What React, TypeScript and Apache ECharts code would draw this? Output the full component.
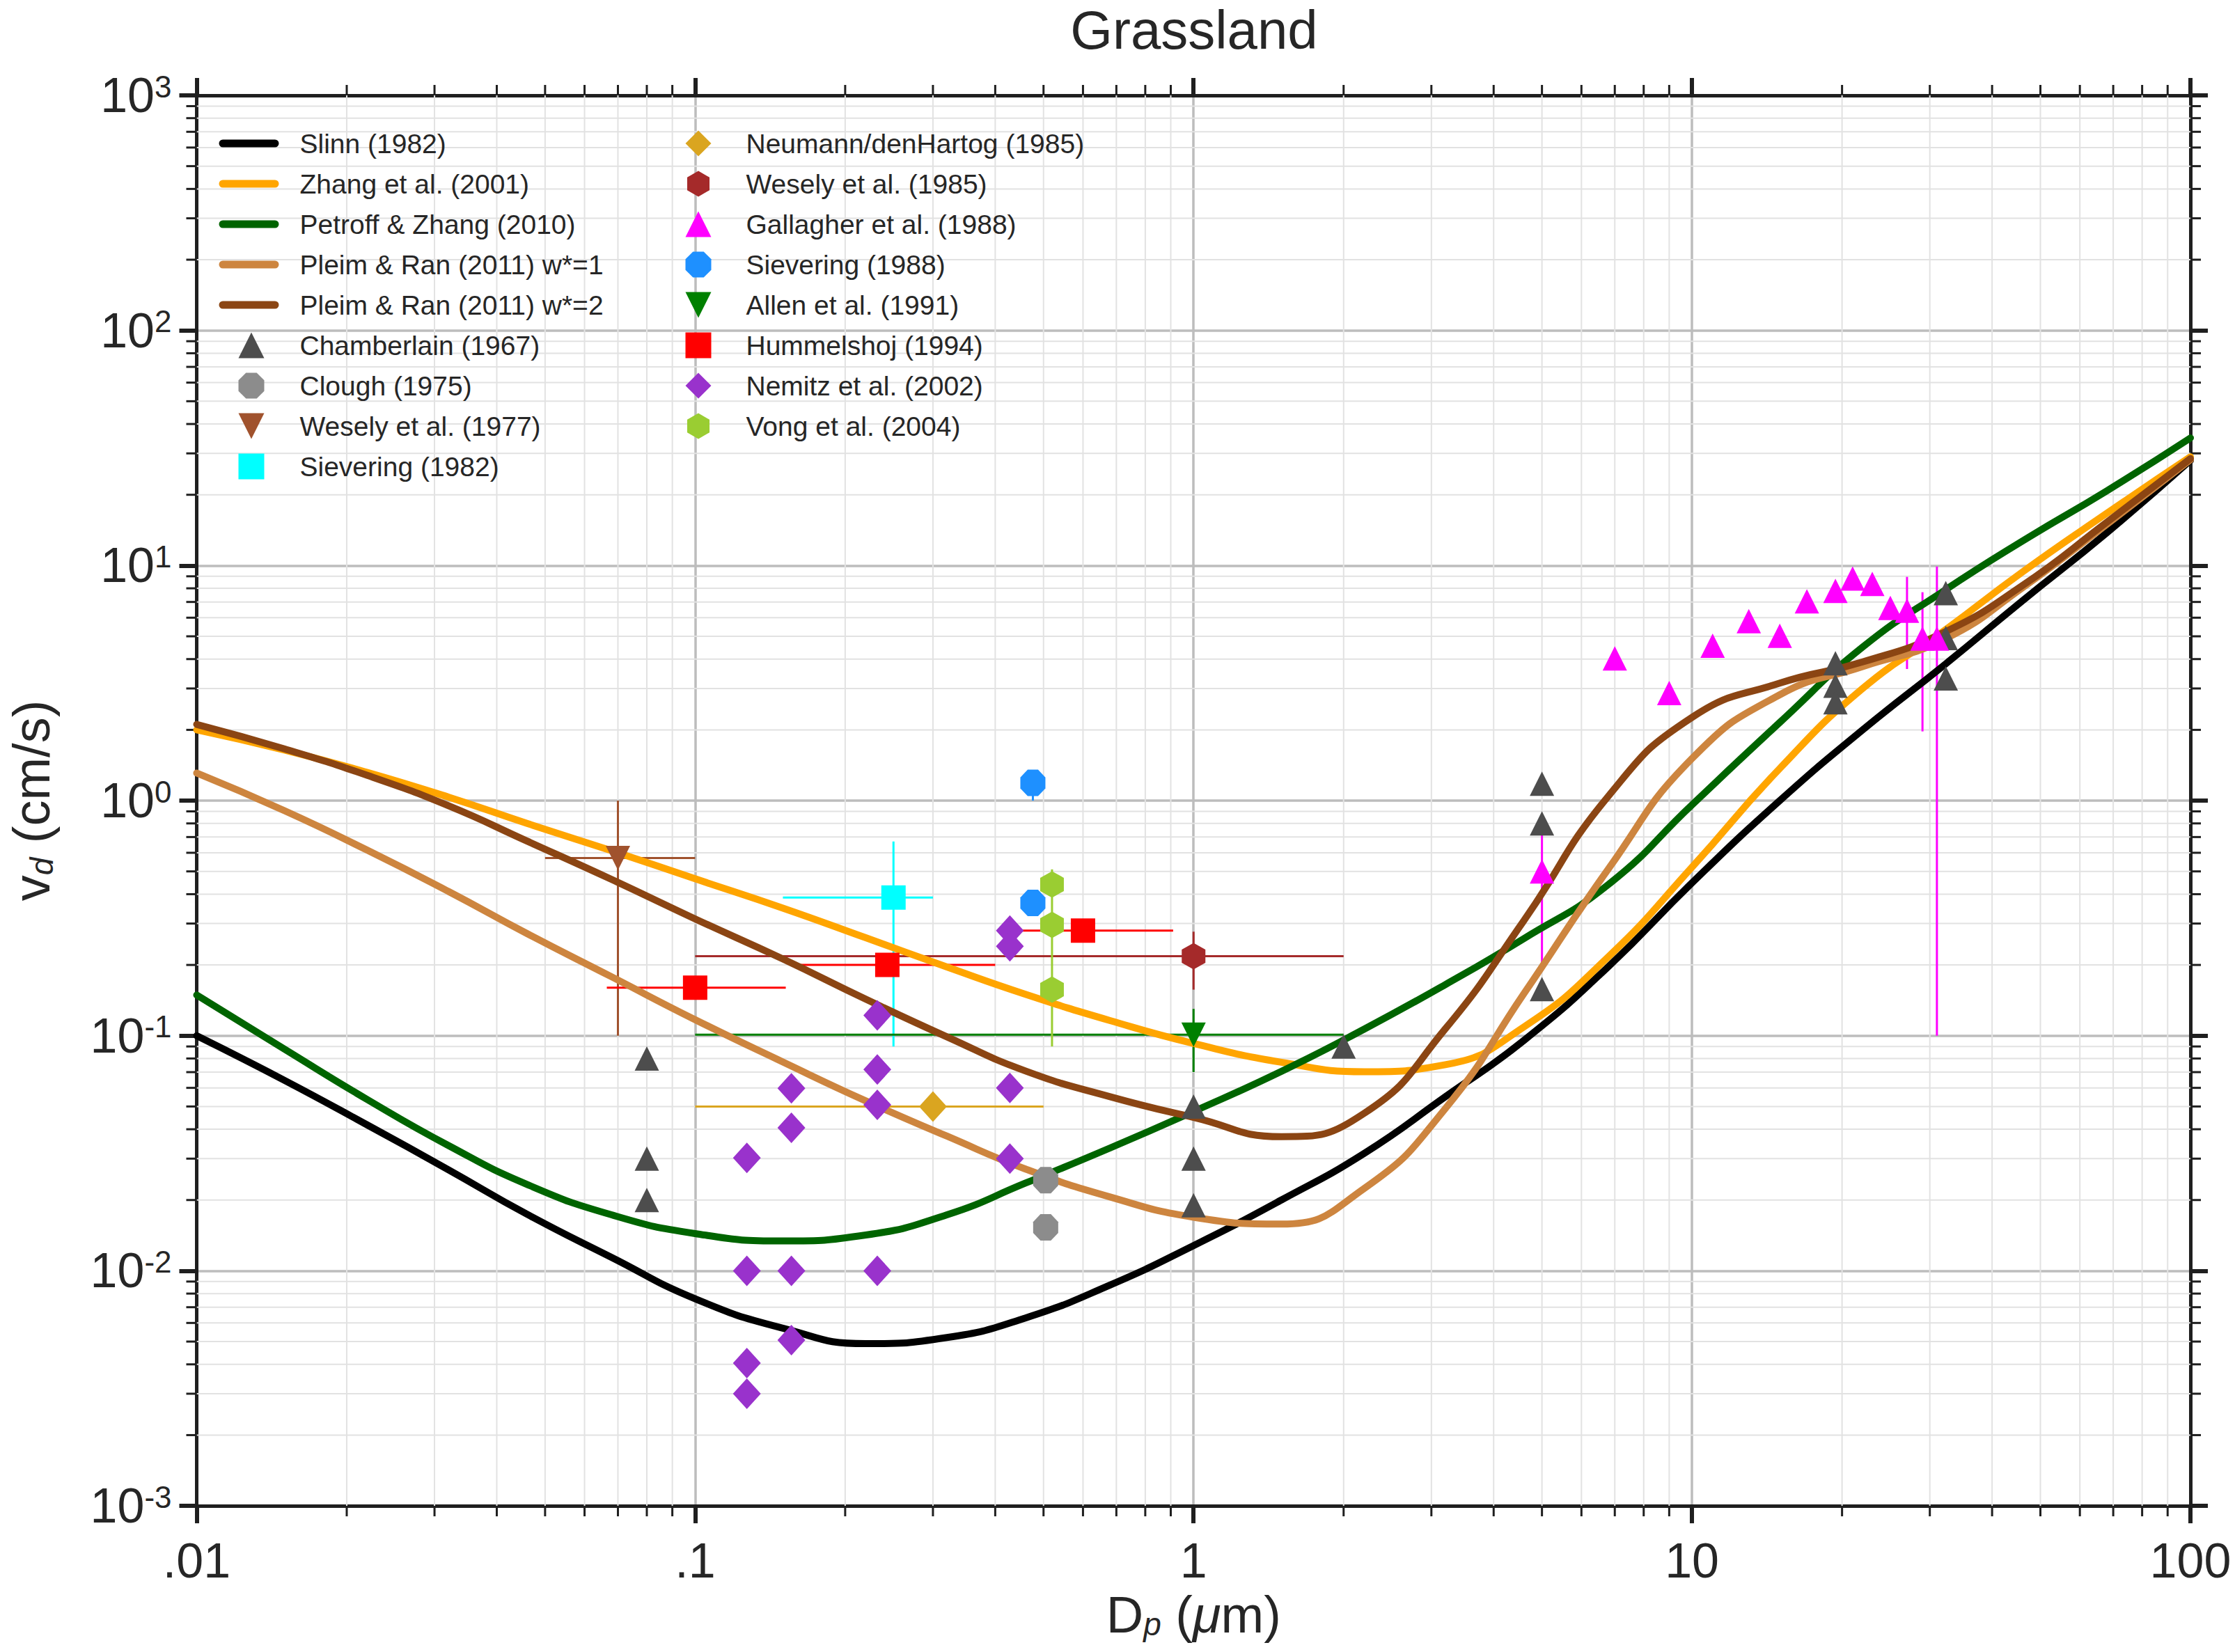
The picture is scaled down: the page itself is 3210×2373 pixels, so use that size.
import React, { useEffect, useRef } from 'react';
import * as echarts from 'echarts';

// particle diameter grid used by the model curves (µm), roughly even in log space
const dp = [0.01, 0.015, 0.022, 0.032, 0.046, 0.068, 0.1, 0.15, 0.22, 0.32, 0.46, 0.68, 1, 1.5, 2.2, 3.2, 4.6, 6.8, 10, 15, 22, 32, 46, 68, 100];
const slinn = [0.1, 0.0646, 0.0417, 0.0269, 0.0174, 0.0114, 0.0076, 0.0057, 0.0049, 0.0052, 0.0063, 0.0087, 0.0128, 0.02, 0.0316, 0.055, 0.0955, 0.197, 0.447, 1.0, 2.0, 3.76, 7.08, 13.8, 28];
const zhang = [2.0, 1.64, 1.318, 1.035, 0.8, 0.612, 0.465, 0.349, 0.261, 0.196, 0.15, 0.116, 0.0927, 0.0771, 0.0703, 0.0753, 0.109, 0.217, 0.521, 1.37, 3.0, 5.27, 9.38, 16.7, 29];
const petroff = [0.149, 0.0877, 0.0535, 0.0341, 0.0233, 0.0173, 0.0144, 0.0134, 0.0142, 0.0173, 0.0236, 0.0333, 0.0476, 0.0705, 0.1067, 0.165, 0.259, 0.44, 0.96, 2.15, 4.5, 7.8, 12.7, 20.8, 34.9];
const pleim1 = [1.31, 0.906, 0.615, 0.411, 0.272, 0.178, 0.117, 0.0773, 0.0528, 0.0374, 0.0271, 0.0206, 0.0169, 0.0158, 0.0224, 0.049, 0.151, 0.513, 1.51, 2.82, 3.72, 4.84, 8.04, 15.0, 28.2];
const pleim2 = [2.11, 1.66, 1.28, 0.951, 0.673, 0.462, 0.314, 0.212, 0.143, 0.0989, 0.0708, 0.055, 0.0449, 0.0372, 0.0468, 0.107, 0.309, 1.047, 2.26, 3.16, 3.89, 5.19, 8.22, 15.3, 28.5];

// measurements [Dp, vd]
const chamberlain = [[0.08, 0.08], [0.08, 0.03], [0.08, 0.02], [1, 0.05], [1, 0.03], [1, 0.019], [2, 0.09], [5, 1.18], [5, 0.8], [5, 0.158], [19.4, 3.84], [19.4, 3.08], [19.4, 2.62], [32.3, 7.63], [32.3, 4.92], [32.3, 3.31]];
const clough = [[0.505, 0.0243], [0.505, 0.0153]];
const wesely77 = [[0.07, 0.57]];
const sievering82 = [[0.25, 0.387]];
const neumann = [[0.3, 0.05]];
const wesely85 = [[1, 0.218]];
const gallagher = [[5, 0.5], [7, 4.03], [9, 2.87], [11, 4.56], [13, 5.8], [15, 5.03], [17, 7.05], [19.4, 7.8], [21, 8.8], [23, 8.35], [25, 6.6], [27, 6.42], [29, 4.89], [31, 4.89]];
const sievering88 = [[0.476, 1.19], [0.476, 0.367]];
const allen = [[1, 0.101]];
const hummelshoj = [[0.1, 0.16], [0.243, 0.2], [0.6, 0.28]];
const nemitz = [[0.428, 0.28], [0.428, 0.24], [0.232, 0.122], [0.232, 0.0718], [0.232, 0.0508], [0.156, 0.0598], [0.156, 0.0406], [0.127, 0.0302], [0.428, 0.06], [0.428, 0.03], [0.127, 0.01], [0.156, 0.01], [0.232, 0.01], [0.156, 0.00507], [0.127, 0.00405], [0.127, 0.003]];
const vong = [[0.52, 0.44], [0.52, 0.296], [0.52, 0.157]];

// error bars [x, y, xLow, xHigh, yLow, yHigh]
const wesely77Err = [[0.07, 0.57, 0.05, 0.1, 0.1, 1.0]];
const sievering82Err = [[0.25, 0.387, 0.15, 0.3, 0.09, 0.67]];
const neumannErr = [[0.3, 0.05, 0.1, 0.5, 0.05, 0.05]];
const wesely85Err = [[1, 0.218, 0.1, 2, 0.157, 0.277]];
const gallagherErr = [[5, 0.5, 5, 5, 0.2, 0.72], [27, 6.42, 27, 27, 3.63, 8.95], [29, 4.89, 29, 29, 1.97, 7.7], [31, 4.89, 31, 31, 0.1, 9.9]];
const sievering88Err = [[0.476, 1.19, 0.476, 0.476, 1.0, 1.19]];
const allenErr = [[1, 0.101, 0.1, 2, 0.07, 0.13]];
const hummelshojErr = [[0.1, 0.16, 0.0665, 0.152, 0.16, 0.16], [0.243, 0.2, 0.157, 0.4, 0.2, 0.2], [0.6, 0.28, 0.44, 0.91, 0.28, 0.28]];
const vongErr = [[0.52, 0.44, 0.52, 0.52, 0.09, 0.51]];

const xTickLabels = ['.01', '.1', '1', '10', '100'];
const yExponents = ['-3', '-2', '-1', '0', '1', '2', '3'];
const minorSteps = [2, 3, 4, 5, 6, 7, 8, 9];
const xDecades = [0.01, 0.1, 1, 10];
const yDecades = [0.001, 0.01, 0.1, 1, 10, 100];

const X_MIN = 0.01, X_MAX = 100, Y_MIN = 0.001, Y_MAX = 1000;
const FONT = '"Liberation Sans", Arial, Helvetica, sans-serif';
const TEXT = '#262626';
const AXIS = '#1f1f1f';
const MINOR_GRID = '#e2e2e2';
const MAJOR_GRID = '#bdbdbd';
const MINOR_TICK = 15;

const HEX = 'path://M0,-10L8.66,-5L8.66,5L0,10L-8.66,5L-8.66,-5Z';
const OCT = 'path://M-4.14,-10L4.14,-10L10,-4.14L10,4.14L4.14,10L-4.14,10L-10,4.14L-10,-4.14Z';
const TRI_DOWN = 'path://M-10,-10L10,-10L0,10Z';
const LINE_ICON = 'path://M5.5,0L80.5,0A5.5,5.5,0,0,1,80.5,11L5.5,11A5.5,5.5,0,0,1,5.5,0Z';

const xMinor = xDecades.flatMap((d) => minorSteps.map((m) => +(d * m).toPrecision(3)));
const yMinor = yDecades.flatMap((d) => minorSteps.map((m) => +(d * m).toPrecision(3)));

function minorGrid(isX: boolean) {
  return (_p: any, api: any) => {
    const v = api.value(isX ? 0 : 1);
    const a = isX ? api.coord([v, Y_MIN]) : api.coord([X_MIN, v]);
    const b = isX ? api.coord([v, Y_MAX]) : api.coord([X_MAX, v]);
    const tick = { stroke: AXIS, lineWidth: 3 };
    const children: any[] = [
      { type: 'line', shape: { x1: a[0], y1: a[1], x2: b[0], y2: b[1] }, style: { stroke: MINOR_GRID, lineWidth: 2 } },
    ];
    if (isX) {
      children.push({ type: 'line', shape: { x1: a[0], y1: a[1], x2: a[0], y2: a[1] + MINOR_TICK }, style: tick });
      children.push({ type: 'line', shape: { x1: b[0], y1: b[1], x2: b[0], y2: b[1] - MINOR_TICK }, style: tick });
    } else {
      children.push({ type: 'line', shape: { x1: a[0], y1: a[1], x2: a[0] - MINOR_TICK, y2: a[1] }, style: tick });
      children.push({ type: 'line', shape: { x1: b[0], y1: b[1], x2: b[0] + MINOR_TICK, y2: b[1] }, style: tick });
    }
    return { type: 'group', children };
  };
}

function errorBars(_p: any, api: any) {
  const x = api.value(0), y = api.value(1);
  const xl = api.value(2), xh = api.value(3), yl = api.value(4), yh = api.value(5);
  const color = api.visual('color');
  const children: any[] = [];
  if (xh > xl) {
    const p1 = api.coord([xl, y]), p2 = api.coord([xh, y]);
    children.push({ type: 'line', shape: { x1: p1[0], y1: p1[1], x2: p2[0], y2: p2[1] }, style: { stroke: color, lineWidth: 3 } });
  }
  if (yh > yl) {
    const p1 = api.coord([x, yl]), p2 = api.coord([x, yh]);
    children.push({ type: 'line', shape: { x1: p1[0], y1: p1[1], x2: p2[0], y2: p2[1] }, style: { stroke: color, lineWidth: 3 } });
  }
  return { type: 'group', children };
}

const curve = (name: string, values: number[], color: string) => ({
  name, type: 'line', data: dp.map((x, i) => [x, values[i]]), symbol: 'none', smooth: 0.5, silent: true, z: 3,
  color, lineStyle: { color, width: 10, cap: 'round', join: 'round' }, itemStyle: { color },
});
const marks = (name: string, data: number[][], symbol: string, size: any, color: string) => ({
  name, type: 'scatter', data, symbol, symbolSize: size, silent: true, z: 4, itemStyle: { color, opacity: 1 },
});
const bars = (name: string, data: number[][], color: string) => ({
  name: name + ' error', type: 'custom', renderItem: errorBars, data, silent: true, z: 2, itemStyle: { color },
});

const lineNames = ['Slinn (1982)', 'Zhang et al. (2001)', 'Petroff & Zhang (2010)', 'Pleim & Ran (2011) w*=1', 'Pleim & Ran (2011) w*=2'];
const markerNames1 = ['Chamberlain (1967)', 'Clough (1975)', 'Wesely et al. (1977)', 'Sievering (1982)'];
const markerNames2 = ['Neumann/denHartog (1985)', 'Wesely et al. (1985)', 'Gallagher et al. (1988)', 'Sievering (1988)', 'Allen et al. (1991)', 'Hummelshoj (1994)', 'Nemitz et al. (2002)', 'Vong et al. (2004)'];

export default function App() {
  const ref = useRef<HTMLDivElement>(null);
  useEffect(() => {
    if (!ref.current) return;
    const chart = echarts.init(ref.current, undefined, { renderer: 'svg' });
    const axisBase = {
      type: 'log', logBase: 10,
      axisLine: { show: true, onZero: false, lineStyle: { color: AXIS, width: 5 } },
      axisTick: { show: true, inside: false, length: 25, lineStyle: { color: AXIS, width: 6 } },
      minorTick: { show: false },
      minorSplitLine: { show: false },
    };
    const legendText = { fontSize: 39, color: TEXT, fontFamily: FONT, lineHeight: 37 };
    chart.setOption({
      animation: false,
      backgroundColor: '#ffffff',
      title: {
        text: 'Grassland', left: 1715, top: 3, padding: 0, textAlign: 'center',
        textStyle: { fontSize: 78, fontWeight: 'normal', color: TEXT, fontFamily: FONT, lineHeight: 80 },
      },
      grid: { left: 282.5, right: 64, top: 137, bottom: 197, containLabel: false },
      legend: [
        { orient: 'vertical', left: 314.5, top: 186.5, padding: 0, itemWidth: 86, itemHeight: 37, itemGap: 19, icon: LINE_ICON,
          selectedMode: false, data: lineNames, textStyle: { ...legendText, padding: [0, 0, 0, 25] } },
        { orient: 'vertical', left: 342.5, top: 476.5, padding: 0, itemWidth: 37, itemHeight: 37, itemGap: 19,
          selectedMode: false, data: markerNames1, textStyle: { ...legendText, padding: [0, 0, 0, 46] } },
        { orient: 'vertical', left: 984.5, top: 186.5, padding: 0, itemWidth: 37, itemHeight: 37, itemGap: 19,
          selectedMode: false, data: markerNames2, textStyle: { ...legendText, padding: [0, 0, 0, 45] } },
      ],
      xAxis: [
        {
          ...axisBase, min: X_MIN, max: X_MAX, splitNumber: 4, position: 'bottom',
          axisLabel: {
            margin: 44, fontSize: 70, color: TEXT, fontFamily: FONT,
            formatter: (v: number) => xTickLabels[Math.round(Math.log10(v)) + 2],
          },
          splitLine: { show: true, lineStyle: { color: MAJOR_GRID, width: 3.5 } },
          name: '{n|D}{s|p}{n| (}{mu|μ}{n|m)}', nameLocation: 'middle', nameGap: 96,
          nameTextStyle: {
            rich: {
              n: { fontSize: 74, lineHeight: 74, color: TEXT, fontFamily: FONT, padding: [0, 0, 12, 0], verticalAlign: 'top' },
              mu: { fontSize: 74, lineHeight: 74, color: TEXT, fontFamily: FONT, fontStyle: 'italic', padding: [0, 0, 12, 0], verticalAlign: 'top' },
              s: { fontSize: 46, lineHeight: 46, color: TEXT, fontFamily: FONT, fontStyle: 'italic', verticalAlign: 'bottom' },
            },
          },
        },
        {
          ...axisBase, min: X_MIN, max: X_MAX, splitNumber: 4, position: 'top',
          axisLabel: { show: false }, splitLine: { show: false },
        },
      ],
      yAxis: [
        {
          ...axisBase, min: Y_MIN, max: Y_MAX, splitNumber: 6, position: 'left',
          axisLabel: {
            margin: 36, color: TEXT, fontFamily: FONT,
            formatter: (v: number) => `{b|10}{e|${yExponents[Math.round(Math.log10(v)) + 3]}}`,
            rich: {
              b: { fontSize: 70, lineHeight: 70, color: TEXT, fontFamily: FONT, padding: [12, 0, 0, 0], verticalAlign: 'bottom' },
              e: { fontSize: 44, lineHeight: 44, color: TEXT, fontFamily: FONT, verticalAlign: 'top' },
            },
          },
          splitLine: { show: true, lineStyle: { color: MAJOR_GRID, width: 3.5 } },
          name: '{n|v}{s|d}{n| (cm/s)}', nameLocation: 'middle', nameGap: 200,
          nameTextStyle: {
            rich: {
              n: { fontSize: 74, lineHeight: 74, color: TEXT, fontFamily: FONT, padding: [0, 0, 12, 0], verticalAlign: 'top' },
              s: { fontSize: 46, lineHeight: 46, color: TEXT, fontFamily: FONT, fontStyle: 'italic', verticalAlign: 'bottom' },
            },
          },
        },
        {
          ...axisBase, min: Y_MIN, max: Y_MAX, splitNumber: 6, position: 'right',
          axisLabel: { show: false }, splitLine: { show: false },
        },
      ],
      series: [
        { type: 'custom', name: 'x minor grid', renderItem: minorGrid(true), data: xMinor.map((v) => [v, 1]), silent: true, z: 1, clip: false },
        { type: 'custom', name: 'y minor grid', renderItem: minorGrid(false), data: yMinor.map((v) => [1, v]), silent: true, z: 1, clip: false },
        bars('Wesely et al. (1977)', wesely77Err, '#a0522d'),
        bars('Sievering (1982)', sievering82Err, '#00ffff'),
        bars('Neumann/denHartog (1985)', neumannErr, '#daa520'),
        bars('Wesely et al. (1985)', wesely85Err, '#a52a2a'),
        bars('Gallagher et al. (1988)', gallagherErr, '#ff00ff'),
        bars('Sievering (1988)', sievering88Err, '#1e90ff'),
        bars('Allen et al. (1991)', allenErr, '#008000'),
        bars('Hummelshoj (1994)', hummelshojErr, '#ff0000'),
        bars('Vong et al. (2004)', vongErr, '#9acd32'),
        curve('Slinn (1982)', slinn, '#000000'),
        curve('Zhang et al. (2001)', zhang, '#ffa500'),
        curve('Petroff & Zhang (2010)', petroff, '#006400'),
        curve('Pleim & Ran (2011) w*=1', pleim1, '#cd853f'),
        curve('Pleim & Ran (2011) w*=2', pleim2, '#8b4513'),
        marks('Chamberlain (1967)', chamberlain, 'triangle', 35, '#4d4d4d'),
        marks('Clough (1975)', clough, OCT, [36, 38], '#8c8c8c'),
        marks('Wesely et al. (1977)', wesely77, TRI_DOWN, 35, '#a0522d'),
        marks('Sievering (1982)', sievering82, 'rect', 35, '#00ffff'),
        marks('Neumann/denHartog (1985)', neumann, 'diamond', [40, 44], '#daa520'),
        marks('Wesely et al. (1985)', wesely85, HEX, [34, 38], '#a52a2a'),
        marks('Gallagher et al. (1988)', gallagher, 'triangle', 35, '#ff00ff'),
        marks('Sievering (1988)', sievering88, OCT, [36, 38], '#1e90ff'),
        marks('Allen et al. (1991)', allen, TRI_DOWN, 35, '#008000'),
        marks('Hummelshoj (1994)', hummelshoj, 'rect', 35, '#ff0000'),
        marks('Nemitz et al. (2002)', nemitz, 'diamond', [40, 44], '#9932cc'),
        marks('Vong et al. (2004)', vong, HEX, [34, 38], '#9acd32'),
      ],
    });
    return () => chart.dispose();
  }, []);
  return <div ref={ref} style={{ position: 'absolute', left: 0, top: 0, width: 3210, height: 2373 }} />;
}
